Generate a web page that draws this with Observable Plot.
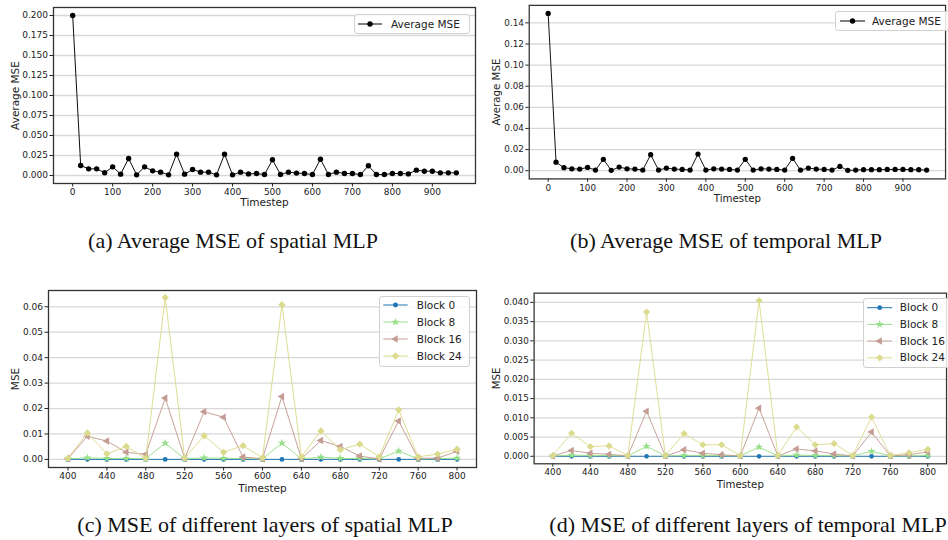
<!DOCTYPE html>
<html><head><meta charset="utf-8">
<script src="https://cdn.jsdelivr.net/npm/d3@7"></script>
<script src="https://cdn.jsdelivr.net/npm/@observablehq/plot@0.6"></script>
<style>
html,body{margin:0;padding:0;background:#fff;}
#root{position:relative;width:948px;height:540px;overflow:hidden;background:#fff;font-family:"DejaVu Sans",sans-serif;}
.panel{position:absolute;}
.cap{position:absolute;font-family:"Liberation Serif","Times New Roman",serif;font-size:22px;line-height:24px;color:#111;white-space:nowrap;transform:translateX(-50%);}
.legend{position:absolute;}
</style></head><body><div id="root"></div>
<script>
// ---------- data ----------
const timestepsAll = [0,20,40,60,80,100,120,140,160,180,200,220,240,260,280,300,320,340,360,380,400,420,440,460,480,500,520,540,560,580,600,620,640,660,680,700,720,740,760,780,800,820,840,860,880,900,920,940,960];
const spatialAvgMSE = [0.2,0.0125,0.0083,0.0083,0.0035,0.0108,0.0017,0.0213,0.0008,0.0108,0.0058,0.0042,0.0008,0.0267,0.0017,0.0075,0.0042,0.0042,0.0008,0.0267,0.0008,0.0042,0.002,0.0025,0.0012,0.0196,0.0012,0.0042,0.003,0.0025,0.0012,0.0204,0.0012,0.0042,0.0025,0.0025,0.0012,0.0121,0.0012,0.0012,0.0025,0.0025,0.002,0.0067,0.0054,0.0054,0.0033,0.0033,0.0033];
const temporalAvgMSE = [0.149,0.008,0.0028,0.0018,0.0015,0.0031,0.0006,0.0108,0.0003,0.0034,0.0018,0.0015,0.0006,0.0151,0.0006,0.0025,0.0015,0.0012,0.0006,0.0157,0.0006,0.0018,0.0015,0.0012,0.0006,0.0108,0.0006,0.0018,0.0015,0.0012,0.0006,0.0117,0.0006,0.0025,0.0015,0.0012,0.0006,0.004,0.0003,0.0006,0.0009,0.0009,0.0009,0.0012,0.0012,0.0012,0.0009,0.0009,0.0006];

const timestepsBlock = [400,420,440,460,480,500,520,540,560,580,600,620,640,660,680,700,720,740,760,780,800];
const blockNames = ["Block 0","Block 8","Block 16","Block 24"];
const spatialBlock0  = [0,0,0,0,0,0,0,0,0,0,0,0,0,0,0,0,0,0,0,0,0];
const spatialBlock8  = [0.0003,0.0006,0.0004,0.0004,0.0003,0.0064,0.0002,0.0006,0.0004,0.0004,0.0002,0.0064,0.0002,0.0009,0.0004,0.0004,0.0002,0.0033,0.0002,0.0003,0.0005];
const spatialBlock16 = [0.0003,0.0091,0.0072,0.0028,0.002,0.0241,0.0005,0.0187,0.0166,0.0009,0.0003,0.0247,0.0003,0.0074,0.0051,0.0013,0.0002,0.0151,0.0004,0.0005,0.0032];
const spatialBlock24 = [0.0005,0.0104,0.0022,0.0051,0.0004,0.0636,0.0005,0.0093,0.0028,0.0054,0.0006,0.0608,0.001,0.0112,0.0038,0.006,0.001,0.0195,0.001,0.0021,0.004];
const temporalBlock0  = [0,0,0,0,0,0,0,0,0,0,0,0,0,0,0,0,0,0,0,0,0];
const temporalBlock8  = [0.0001,0.0003,0.0002,0.0002,0.0001,0.0026,0.0001,0.0002,0.0002,0.0002,0.0001,0.0024,0.0001,0.0003,0.0002,0.0002,0.0001,0.0013,0.0001,0.0001,0.0002];
const temporalBlock16 = [0.0001,0.0015,0.0008,0.0005,0.0001,0.0117,0.0001,0.0017,0.0008,0.0004,0.0001,0.0125,0.0001,0.0019,0.0014,0.0006,0.0001,0.0063,0.0001,0.0004,0.0011];
const temporalBlock24 = [0.0002,0.006,0.0025,0.0027,0.0002,0.0375,0.0002,0.0059,0.003,0.003,0.0002,0.0405,0.0002,0.0076,0.003,0.0033,0.0002,0.0102,0.0002,0.0009,0.0018];

const xTicksAvg = [0,100,200,300,400,500,600,700,800,900];
const yTicksA = [0,0.025,0.05,0.075,0.1,0.125,0.15,0.175,0.2];
const yTicksB = [0,0.02,0.04,0.06,0.08,0.1,0.12,0.14];
const xTicksBlock = [400,440,480,520,560,600,640,680,720,760,800];
const yTicksC = [0,0.01,0.02,0.03,0.04,0.05,0.06];
const yTicksD = [0,0.005,0.01,0.015,0.02,0.025,0.03,0.035,0.04];
const captions = ["(a) Average MSE of spatial MLP","(b) Average MSE of temporal MLP","(c) MSE of different layers of spatial MLP","(d) MSE of different layers of temporal MLP"];

// ---------- styles ----------
const blockStyles = [
  {color:"#1f77b4", symbol:"circle", r:2.4, rotate:0},
  {color:"#98df8a", symbol:"star", r:2.6, rotate:0},
  {color:"#c49c94", symbol:"triangle", r:2.8, rotate:-90},
  {color:"#dbdb8d", symbol:"diamond2", r:3.3, rotate:0}
];
const root = document.getElementById("root");

function makePanel(cfg) {
  const marks = [
    Plot.gridY(cfg.yTicks, {stroke:"#d8d8d8", strokeOpacity:1, strokeWidth:1.3}),
  ];
  cfg.series.forEach(s => {
    marks.push(Plot.line(s.rows, {x:"t", y:"v", stroke:s.color, strokeWidth:1, strokeOpacity:0.95}));
    marks.push(Plot.dot(s.rows, {x:"t", y:"v", fill:s.color, stroke:"none", r:s.r, symbol:s.symbol, rotate:s.rotate}));
  });
  marks.push(
    Plot.frame({stroke:"#333", strokeWidth:1.3}),
    Plot.axisX(cfg.xTicks, {tickSize:3.5, tickPadding:2, label:null, stroke:"#222", fill:"#222"}),
    Plot.axisY(cfg.yTicks, {tickSize:3.5, tickPadding:2, label:null, tickFormat:d3.format(cfg.yFmt), stroke:"#222", fill:"#222"}),
    Plot.text([cfg.xLabel], {frameAnchor:"bottom", lineAnchor:"middle", textAnchor:"middle", dy:cfg.xLabelDy, fontSize:10.5, fill:"#222"}),
    Plot.text([cfg.yLabel], {frameAnchor:"left", lineAnchor:"middle", textAnchor:"middle", dx:cfg.yLabelDx, rotate:-90, fontSize:10.5, fill:"#222"})
  );
  const svg = Plot.plot({
    width: cfg.width, height: cfg.height,
    marginLeft: cfg.m[0], marginRight: cfg.m[1], marginTop: cfg.m[2], marginBottom: cfg.m[3],
    x: {domain: cfg.xDomain},
    y: {domain: cfg.yDomain},
    style: {fontFamily:"DejaVu Sans", fontSize:"9px", background:"transparent", overflow:"visible"},
    marks
  });
  const div = document.createElement("div");
  div.className = "panel";
  div.style.left = cfg.left + "px";
  div.style.top = cfg.top + "px";
  div.appendChild(svg);
  root.appendChild(div);
}

function makeLegend(cfg) {
  const ns = "http://www.w3.org/2000/svg";
  const svg = document.createElementNS(ns, "svg");
  svg.setAttribute("width", cfg.width);
  svg.setAttribute("height", cfg.height);
  svg.setAttribute("class", "legend");
  svg.style.left = cfg.left + "px";
  svg.style.top = cfg.top + "px";
  svg.style.overflow = "visible";
  const rect = document.createElementNS(ns, "rect");
  rect.setAttribute("x", 0.5); rect.setAttribute("y", 0.5);
  rect.setAttribute("width", cfg.width - 1); rect.setAttribute("height", cfg.height - 1);
  rect.setAttribute("rx", 2.5);
  rect.setAttribute("fill", "rgba(255,255,255,0.85)");
  rect.setAttribute("stroke", "#d0d0d0");
  svg.appendChild(rect);
  cfg.items.forEach((it, i) => {
    const y = cfg.rowY0 + i * cfg.rowGap;
    const line = document.createElementNS(ns, "line");
    line.setAttribute("x1", cfg.sw0); line.setAttribute("x2", cfg.sw1);
    line.setAttribute("y1", y); line.setAttribute("y2", y);
    line.setAttribute("stroke", it.color); line.setAttribute("stroke-width", 1);
    svg.appendChild(line);
    const symMap = {circle:d3.symbolCircle, star:d3.symbolStar, triangle:d3.symbolTriangle, diamond2:d3.symbolDiamond2};
    const p = document.createElementNS(ns, "path");
    p.setAttribute("d", d3.symbol(symMap[it.symbol], Math.PI * it.r * it.r)());
    p.setAttribute("transform", `translate(${(cfg.sw0 + cfg.sw1) / 2},${y}) rotate(${it.rotate})`);
    p.setAttribute("fill", it.color);
    svg.appendChild(p);
    const t = document.createElementNS(ns, "text");
    t.setAttribute("x", cfg.textX); t.setAttribute("y", y);
    t.setAttribute("dy", "0.35em");
    t.setAttribute("font-family", "DejaVu Sans");
    t.setAttribute("font-size", "10.5px");
    t.setAttribute("fill", "#222");
    t.textContent = it.label;
    svg.appendChild(t);
  });
  root.appendChild(svg);
}

const rowsOf = (ts, vs) => ts.map((t, i) => ({t, v: vs[i]}));
const avgStyle = {color:"#000", symbol:"circle", r:2.7, rotate:0};

// (a)
makePanel({left:0, top:0, width:480, height:215, m:[53,5,7,32],
  xDomain:[-48,1008], yDomain:[-0.01,0.21], xTicks:xTicksAvg, yTicks:yTicksA, yFmt:".3f",
  xLabel:"Timestep", yLabel:"Average MSE", xLabelDy:19, yLabelDx:-38,
  series:[{...avgStyle, rows: rowsOf(timestepsAll, spatialAvgMSE)}]});
// (b)
makePanel({left:480, top:0, width:480, height:215, m:[50,3,5,32],
  xDomain:[-48,1008], yDomain:[-0.0078,0.1566], xTicks:xTicksAvg, yTicks:yTicksB, yFmt:".2f",
  xLabel:"Timestep", yLabel:"Average MSE", xLabelDy:20, yLabelDx:-33,
  series:[{...avgStyle, rows: rowsOf(timestepsAll, temporalAvgMSE)}]});
// (c)
const spatialBlocks = [spatialBlock0, spatialBlock8, spatialBlock16, spatialBlock24];
const temporalBlocks = [temporalBlock0, temporalBlock8, temporalBlock16, temporalBlock24];
makePanel({left:0, top:280, width:480, height:220, m:[48,4,10,33],
  xDomain:[380,820], yDomain:[-0.00318,0.0664], xTicks:xTicksBlock, yTicks:yTicksC, yFmt:".2f",
  xLabel:"Timestep", yLabel:"MSE", xLabelDy:21, yLabelDx:-33,
  series: spatialBlocks.map((vs, i) => ({...blockStyles[i], rows: rowsOf(timestepsBlock, vs)}))});
// (d)
makePanel({left:480, top:280, width:480, height:220, m:[55,2,13,32],
  xDomain:[380,820], yDomain:[-0.00195,0.0424], xTicks:xTicksBlock, yTicks:yTicksD, yFmt:".3f",
  xLabel:"Timestep", yLabel:"MSE", xLabelDy:21, yLabelDx:-38,
  series: temporalBlocks.map((vs, i) => ({...blockStyles[i], rows: rowsOf(timestepsBlock, vs)}))});

// legends
makeLegend({left:354, top:14, width:116, height:20, sw0:4, sw1:28, textX:37, rowY0:10, rowGap:0,
  items:[{...avgStyle, label:"Average MSE"}]});
makeLegend({left:835, top:11, width:200, height:20, sw0:5, sw1:30, textX:37, rowY0:10, rowGap:0,
  items:[{...avgStyle, label:"Average MSE"}]});
makeLegend({left:379, top:296, width:91, height:71, sw0:4.3, sw1:28.7, textX:37.7, rowY0:9, rowGap:17,
  items: blockNames.map((b, i) => ({...blockStyles[i], label:b}))});
makeLegend({left:862.5, top:298, width:200, height:70, sw0:4.2, sw1:29.2, textX:36.8, rowY0:9.7, rowGap:16.7,
  items: blockNames.map((b, i) => ({...blockStyles[i], label:b}))});

// captions
[[233,229],[726,229],[265,513],[748,513]].forEach(([cx, top], i) => {
  const d = document.createElement("div");
  d.className = "cap";
  d.style.left = cx + "px";
  d.style.top = top + "px";
  d.textContent = captions[i];
  root.appendChild(d);
});
</script></body></html>
